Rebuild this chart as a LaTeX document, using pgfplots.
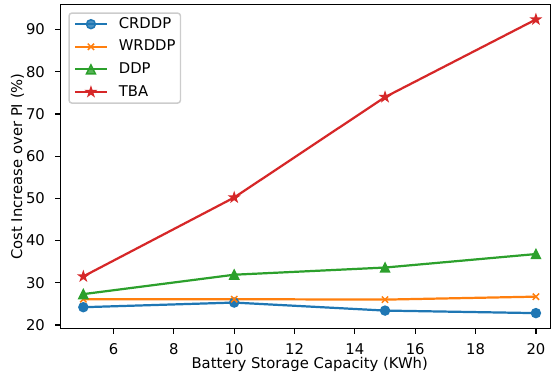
\documentclass[border=0pt]{standalone}
\usepackage{fontspec}
\setmainfont{DejaVu Sans}
\usepackage{pgfplots}
\pgfplotsset{compat=1.18}
\definecolor{c0}{HTML}{1F77B4}
\definecolor{c1}{HTML}{FF7F0E}
\definecolor{c2}{HTML}{2CA02C}
\definecolor{c3}{HTML}{D62728}
\newcommand\fs{\fontsize{14.8}{17.8}\selectfont}
\pgfdeclareplotmark{mstar}{%
  \pgfpathmoveto{\pgfpointpolar{90}{\pgfplotmarksize}}%
  \pgfpathlineto{\pgfpointpolar{126}{0.382\pgfplotmarksize}}%
  \pgfpathlineto{\pgfpointpolar{162}{\pgfplotmarksize}}%
  \pgfpathlineto{\pgfpointpolar{198}{0.382\pgfplotmarksize}}%
  \pgfpathlineto{\pgfpointpolar{234}{\pgfplotmarksize}}%
  \pgfpathlineto{\pgfpointpolar{270}{0.382\pgfplotmarksize}}%
  \pgfpathlineto{\pgfpointpolar{306}{\pgfplotmarksize}}%
  \pgfpathlineto{\pgfpointpolar{342}{0.382\pgfplotmarksize}}%
  \pgfpathlineto{\pgfpointpolar{18}{\pgfplotmarksize}}%
  \pgfpathlineto{\pgfpointpolar{54}{0.382\pgfplotmarksize}}%
  \pgfpathclose\pgfusepathqfillstroke}
\pgfdeclareplotmark{mtri}{%
  \pgfpathmoveto{\pgfqpoint{0pt}{\pgfplotmarksize}}%
  \pgfpathlineto{\pgfqpoint{-\pgfplotmarksize}{-\pgfplotmarksize}}%
  \pgfpathlineto{\pgfqpoint{\pgfplotmarksize}{-\pgfplotmarksize}}%
  \pgfpathclose\pgfusepathqfillstroke}
\begin{document}
\begin{tikzpicture}
\begin{axis}[
  width=490pt, height=323.6pt, scale only axis,
  xmin=4.25, xmax=20.49, ymin=19.2, ymax=95.9,
  xtick={6,8,...,20}, ytick={20,30,...,90},
  tick align=outside, tick pos=left, major tick length=5.2pt,
  every tick/.style={black, line width=1.19pt},
  axis line style={line width=1.19pt},
  /pgf/number format/assume math mode=true,
  tick label style={font=\fs, inner sep=0pt},
  xticklabel style={anchor=base, yshift=-21.2pt},
  yticklabel style={anchor=east, xshift=-10.4pt},
  label style={font=\fs},
  xlabel={Battery Storage Capacity (KWh)},
  ylabel={Cost Increase over PI (\%)},
  xlabel style={at={(axis description cs:0.5,0)}, anchor=center, yshift=-36pt, xshift=4pt},
  ylabel style={at={(axis description cs:0,0.5)}, anchor=center, yshift=43.2pt},
  legend cell align=left,
  legend style={at={(axis description cs:0,1)}, anchor=north west, xshift=7.6pt, yshift=-7.6pt,
    font=\fs, draw=white!80!black, line width=1.48pt, rounded corners=3pt,
    fill=white, fill opacity=0.8, draw opacity=1, text opacity=1,
    inner xsep=5pt, inner ysep=4.5pt, row sep=9.3pt, column sep=11pt,
    nodes={inner sep=0pt, text height=10.8pt, text depth=2.5pt}},
  legend image code/.code={\draw[mark repeat=2,mark phase=2] plot coordinates {(0pt,0pt)(15.8pt,0pt)(31.6pt,0pt)};},
  every axis plot/.append style={line width=2.22pt, mark size=4.45pt, mark options={solid, line width=1.48pt}},
]
\addplot[c0, mark=*] coordinates {(5,24.2)(10,25.3)(15,23.4)(20,22.8)};
\addlegendentry{CRDDP}
\addplot[c1, mark=x] coordinates {(5,26.1)(10,26.1)(15,26.0)(20,26.7)};
\addlegendentry{WRDDP}
\addplot[c2, mark=mtri] coordinates {(5,27.3)(10,31.9)(15,33.6)(20,36.8)};
\addlegendentry{DDP}
\addplot[c3, mark=mstar] coordinates {(5,31.5)(10,50.2)(15,74.0)(20,92.4)};
\addlegendentry{TBA}
\end{axis}
\pgfresetboundingbox
\path ([shift={(-60.7pt,-44.7pt)}]current axis.south west) rectangle ([shift={(1.3pt,4.7pt)}]current axis.north east);
\end{tikzpicture}
\end{document}
